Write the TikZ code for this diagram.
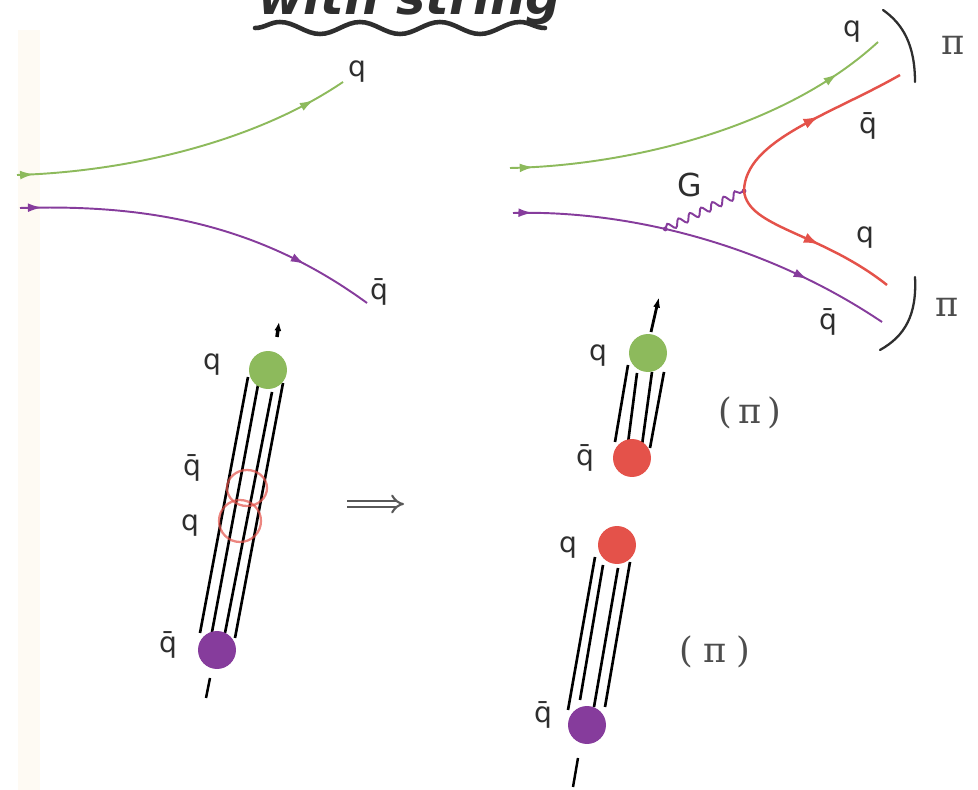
\documentclass[tikz,border=0pt]{standalone}
\usepackage{fontspec}
\setmainfont{DejaVu Sans}
\newfontfamily\pifont{DejaVu Serif}
\usetikzlibrary{arrows.meta,decorations.markings,decorations.pathmorphing}

\definecolor{qgreen}{HTML}{8DBA5C}
\definecolor{qpurple}{HTML}{863C9C}
\definecolor{qred}{HTML}{E4524A}
\definecolor{ink}{HTML}{2E2E2E}
\definecolor{paper}{HTML}{FBF1DC}

\tikzset{
  quark/.style={line width=1.1pt},
  flow/.style 2 args={postaction={decorate},
    decoration={markings,
      mark=at position #1 with {\arrow{Latex[length=8pt,width=5pt]}},
      mark=at position #2 with {\arrow{Latex[length=8pt,width=5pt]}}}},
  flowone/.style={postaction={decorate},
    decoration={markings,
      mark=at position #1 with {\arrow{Latex[length=9pt,width=6pt]}}}},
  lbl/.style={font=\fontsize{16}{18}\selectfont, inner sep=0pt, text=ink},
  pilbl/.style={font=\pifont\fontsize{20}{22}\selectfont, inner sep=0pt, text=ink!85},
  ball/.style={circle, inner sep=0pt, minimum size=0.76cm},
  strand/.style={line width=1.5pt, black},
  bracket/.style={line width=1.3pt, ink, line cap=round},
}

\begin{document}
\begin{tikzpicture}[x=0.02cm, y=-0.02cm]
\useasboundingbox (0,0) rectangle (978,790);
\clip (0,0) rectangle (978,790);

% pale strip along the left edge of the sheet
\fill[paper, opacity=0.35] (18,30) rectangle (40,790);

% heading, underlined with a wave
\node[anchor=base west, inner sep=0pt, text=ink,
      font=\bfseries\itshape\fontsize{28}{30}\selectfont] (title) at (258,15) {with string};
\draw[ink, line width=2.6pt, line cap=round,
      decorate, decoration={snake, segment length=1.6cm, amplitude=0.12cm}]
  (255,28) -- (545,28);

% ---- free quark pair ----
\coordinate (lg0) at (17,175);
\coordinate (lg1) at (343,82);
\coordinate (lp0) at (20,208);
\coordinate (lp1) at (367,303);
\draw[quark, qgreen, flow={0.05}{0.9}] (lg0) .. controls (120,172) and (250,145) .. (lg1);
\draw[quark, qpurple, flow={0.06}{0.8}] (lp0) .. controls (150,204) and (260,225) .. (lp1);
\node[lbl] (lq1) at (357,72) {q};
\node[lbl] (lqb1) at (379,292) {\={q}};

% ---- pair with gluon splitting ----
\coordinate (rg0) at (510,168);
\coordinate (rg1) at (878,42);
\coordinate (rp0) at (513,213);
\coordinate (rp1) at (882,322);
\coordinate (gv) at (744,191);
\draw[quark, qgreen, flow={0.06}{0.87}] (rg0) .. controls (620,166) and (780,132) .. (rg1);
\draw[quark, qpurple, flow={0.05}{0.78}] (rp0) .. controls (620,210) and (760,240) .. (rp1)
  coordinate[pos=0.43] (pv);
\draw[qpurple, line width=1.1pt,
      decorate, decoration={snake, segment length=0.25cm, amplitude=0.075cm}]
  (pv) -- (gv);
\fill[qpurple] (pv) circle (2.4);
\fill[qpurple] (gv) circle (2.4);
\coordinate (rr1) at (900,75);
\coordinate (rr2) at (887,285);
\draw[quark, qred, line width=1.4pt, flowone=0.55] (gv) .. controls (745,140) and (830,115) .. (rr1);
\draw[quark, qred, line width=1.4pt, flowone=0.55] (gv) .. controls (748,228) and (820,232) .. (rr2);

\node[lbl] (rq1) at (852,32) {q};
\node[lbl] (rqb1) at (868,126) {\={q}};
\node[lbl, font=\fontsize{18}{20}\selectfont] (gl) at (690,185) {G};
\node[lbl] (rq2) at (865,238) {q};
\node[lbl] (rqb2) at (828,322) {\={q}};

\draw[bracket] (883,10) .. controls (903,24) and (915,45) .. (915,82);
\draw[bracket] (915,277) .. controls (917,315) and (905,336) .. (880,350);
\node[pilbl] (pi1) at (953,45) {π};
\node[pilbl] (pi2) at (947,307) {π};

% ---- stretched string before breaking ----
\draw[strand] (248,377) -- (200,633);
\draw[strand] (258,385) -- (212,632);
\draw[strand] (272,392) -- (225,633);
\draw[strand] (283,383) -- (235,638);
\draw[qred, opacity=0.7, line width=1.3pt] (247,488) ellipse (20 and 18);
\draw[qred, opacity=0.7, line width=1.3pt] (240,521) ellipse (21 and 21);
\node[ball, fill=qgreen] (sg) at (268,370) {};
\node[ball, fill=qpurple] (sp) at (217,650) {};
\coordinate (sgt) at (279,322);
\coordinate (spt) at (206,698);
\draw[black, line width=2pt, -{Latex[length=5pt,width=4pt]}] (277,337) -- (sgt);
\draw[black, line width=1.4pt] (210,678) -- (spt);
\node[lbl] (sq) at (212,365) {q};
\node[lbl] (sqb) at (192,468) {\={q}};
\node[lbl] (sq2) at (190,526) {q};
\node[lbl] (sqb2) at (168,645) {\={q}};

% arrow to the broken state
\coordinate (ia) at (347,504);
\coordinate (ib) at (404,504);
\draw[ink!80, line width=1.2pt, double, double distance=2.4pt, -{Implies}] (ia) -- (ib);

% ---- two short strings after breaking ----
\draw[strand] (628,365) -- (615,442);
\draw[strand] (637,373) -- (628,443);
\draw[strand] (652,372) -- (642,445);
\draw[strand] (664,372) -- (650,448);
\node[ball, fill=qgreen] (ag) at (648,353) {};
\node[ball, fill=qred] (ar) at (632,458) {};
\coordinate (agt) at (659,297);
\draw[black, line width=1.6pt, -{Latex[length=6pt,width=4pt]}] (651,332) -- (agt);
\node[lbl] (aq) at (598,356) {q};
\node[lbl] (aqb) at (585,458) {\={q}};
\node[pilbl] (api) at (750,413) {(\,π\,)};

\draw[strand] (595,557) -- (568,710);
\draw[strand] (603,565) -- (580,700);
\draw[strand] (618,568) -- (594,707);
\draw[strand] (630,562) -- (605,707);
\node[ball, fill=qred] (br) at (617,545) {};
\node[ball, fill=qpurple] (bp) at (587,725) {};
\coordinate (bpt) at (573,787);
\draw[black, line width=1.4pt] (578,758) -- (bpt);
\node[lbl] (bq) at (568,548) {q};
\node[lbl] (bqb) at (543,715) {\={q}};
\node[pilbl] (bpi) at (715,652) {(\;π\;)};

\end{tikzpicture}
\end{document}
